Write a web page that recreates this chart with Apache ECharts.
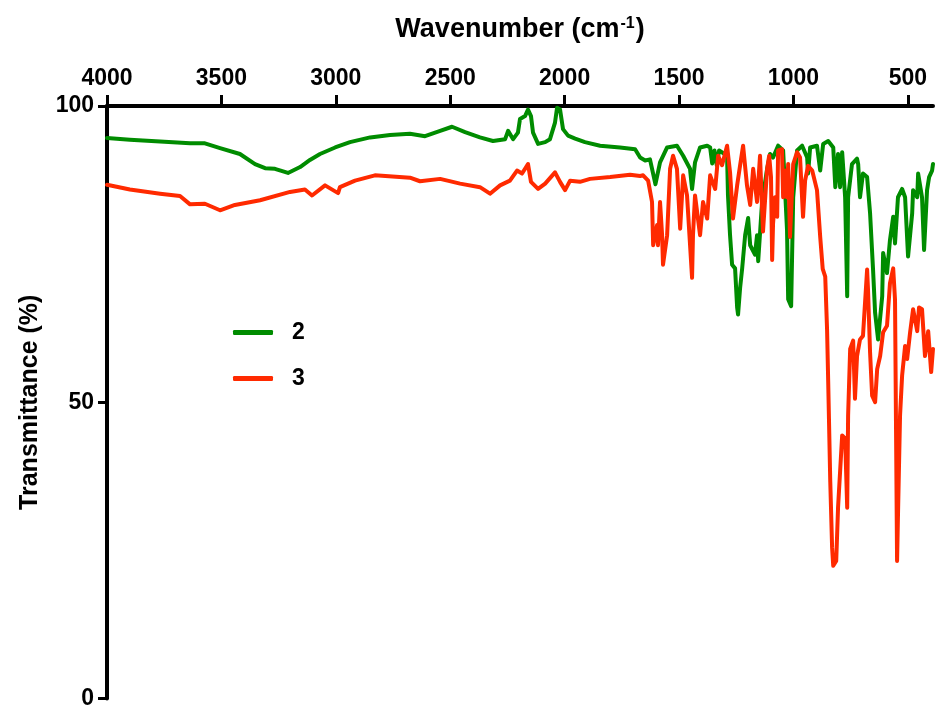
<!DOCTYPE html>
<html>
<head>
<meta charset="utf-8">
<script src="https://cdn.jsdelivr.net/npm/echarts@6/dist/echarts.min.js"></script>
<style>
  html, body { margin: 0; padding: 0; background: #fff; }
  #chart { width: 935px; height: 710px; }
</style>
</head>
<body>
<div id="chart"></div>
<script>
// FTIR spectra of compounds 2 and 3 (wavenumber in cm-1, transmittance in %)
const wavenumber2 = [
  4000, 3900, 3768, 3637, 3572, 3506, 3419, 3353, 3309, 3266, 3209, 3156, 3113, 3069, 3003,
  2938, 2850, 2763, 2676, 2610, 2544, 2492, 2435, 2370, 2313, 2260, 2247, 2225, 2204, 2195,
  2173, 2160, 2147, 2138, 2116, 2085, 2064, 2042, 2033, 2020, 2007, 1985, 1954, 1911, 1845,
  1758, 1692, 1670, 1648, 1627, 1603, 1583, 1552, 1509, 1482, 1452, 1443, 1430, 1408, 1377,
  1364, 1355, 1345, 1335, 1325, 1290, 1286, 1277, 1268, 1255, 1246, 1242, 1233, 1224, 1211,
  1198, 1189, 1168, 1159, 1154, 1137, 1115, 1102, 1089, 1067, 1045, 1028, 1023, 1010, 1001,
  984, 962, 940, 936, 927, 897, 883, 870, 848, 826, 817, 805, 796, 787, 774,
  765, 761, 744, 722, 717, 709, 696, 678, 665, 652, 643, 630, 612, 608, 591,
  578, 564, 556, 543, 525, 512, 499, 481, 477, 459, 455, 438, 429, 416, 407,
  394, 390
];
const transmittance2 = [
  94.6, 94.3, 94.0, 93.7, 93.7, 92.9, 91.9, 90.2, 89.5, 89.4, 88.7, 89.7, 90.9, 91.9, 93.0,
  93.9, 94.7, 95.1, 95.3, 94.9, 95.8, 96.5, 95.6, 94.7, 94.1, 94.4, 95.8, 94.4, 95.5, 97.8,
  98.3, 99.4, 98.3, 95.5, 93.6, 93.9, 94.4, 97.2, 99.7, 99.4, 96.1, 95.0, 94.5, 93.9, 93.3,
  93.0, 92.7, 91.3, 90.8, 91.0, 86.8, 90.5, 93.0, 93.3, 91.6, 89.4, 86.0, 90.5, 93.0, 93.3,
  93.0, 90.3, 92.5, 90.0, 92.5, 91.6, 84.9, 78.2, 73.2, 72.6, 66.0, 64.8, 69.3, 72.6, 78.2,
  81.1, 76.5, 74.9, 78.2, 73.8, 83.8, 89.4, 91.9, 91.3, 93.3, 92.5, 79.1, 67.4, 66.2, 84.6,
  92.5, 93.3, 91.3, 88.6, 93.0, 93.3, 89.1, 93.6, 94.1, 93.0, 86.3, 91.9, 86.3, 92.2, 84.6,
  67.9, 84.6, 90.2, 91.1, 90.2, 84.6, 88.6, 88.0, 81.9, 72.4, 65.1, 60.6, 67.9, 75.2, 71.8,
  77.4, 81.3, 76.8, 84.6, 86.0, 84.6, 74.6, 81.9, 85.8, 84.6, 88.6, 84.6, 75.7, 85.8, 88.0,
  89.1, 90.2
];

const wavenumber3 = [
  4000, 3900, 3768, 3681, 3637, 3572, 3506, 3441, 3331, 3200, 3135, 3104, 3047, 2990, 2982,
  2916, 2829, 2676, 2632, 2544, 2457, 2370, 2326, 2282, 2239, 2208, 2186, 2160, 2147, 2116,
  2085, 2042, 2020, 1998, 1976, 1933, 1889, 1801, 1714, 1670, 1657, 1635, 1618, 1613, 1596,
  1592, 1583, 1574, 1570, 1552, 1539, 1526, 1509, 1495, 1482, 1465, 1443, 1439, 1430, 1408,
  1395, 1377, 1364, 1342, 1329, 1312, 1290, 1277, 1264, 1246, 1233, 1220, 1203, 1189, 1176,
  1159, 1146, 1133, 1115, 1106, 1098, 1093, 1089, 1080, 1071, 1067, 1050, 1045, 1036, 1028,
  1023, 1015, 1001, 984, 971, 958, 949, 936, 918, 897, 883, 872, 861, 853, 848,
  839, 831, 826, 813, 805, 787, 774, 765, 761, 752, 739, 731, 722, 709, 696,
  678, 674, 665, 656, 643, 634, 621, 608, 591, 578, 564, 556, 547, 543, 534,
  525, 512, 503, 490, 477, 459, 451, 438, 425, 411, 398, 390
];
const transmittance3 = [
  86.7, 85.9, 85.2, 84.8, 83.4, 83.5, 82.4, 83.3, 84.1, 85.5, 85.9, 84.9, 86.6, 85.3, 86.3,
  87.4, 88.3, 87.9, 87.3, 87.7, 86.9, 86.3, 85.2, 86.6, 87.4, 89.1, 88.6, 90.2, 87.2, 86.0,
  86.9, 88.8, 87.2, 85.8, 87.4, 87.2, 87.7, 88.0, 88.4, 88.2, 88.3, 87.4, 83.8, 76.5, 79.9,
  76.5, 83.8, 78.2, 73.2, 78.2, 89.4, 91.6, 89.4, 79.3, 88.3, 84.9, 71.0, 78.2, 84.9, 78.2,
  83.8, 81.0, 88.3, 86.0, 91.6, 90.0, 93.3, 88.8, 81.0, 86.6, 90.0, 93.3, 86.6, 83.3, 89.4,
  83.8, 91.6, 78.8, 89.4, 91.6, 88.0, 74.0, 80.2, 84.6, 81.3, 92.5, 92.7, 84.6, 89.1, 84.6,
  90.2, 77.9, 90.2, 92.2, 91.3, 81.3, 87.4, 89.9, 89.1, 85.8, 77.9, 72.5, 71.2, 62.3, 53.4,
  36.6, 25.5, 22.4, 23.2, 32.2, 44.4, 43.9, 32.2, 47.8, 59.0, 60.4, 50.6, 57.8, 60.6, 61.2,
  72.4, 69.0, 58.4, 51.1, 50.0, 55.6, 57.8, 61.8, 62.9, 70.1, 72.6, 67.3, 23.2, 31.0, 47.8,
  54.5, 59.5, 57.3, 61.8, 65.7, 62.0, 66.0, 65.7, 57.8, 62.0, 55.1, 59.0
];

const xTicks = [500, 1000, 1500, 2000, 2500, 3000, 3500, 4000];
const seriesNames = ['2', '3'];
const seriesColors = ['#008c00', '#ff2a00'];

const FONT = '"Liberation Sans", Arial, Helvetica, sans-serif';
const pairs = (xs, ys) => xs.map((x, i) => [x, ys[i]]);

const chart = echarts.init(document.getElementById('chart'), null, { renderer: 'canvas' });

const lineSeries = (name, data, color) => ({
  name,
  type: 'line',
  data,
  showSymbol: false,
  symbol: 'none',
  smooth: false,
  lineStyle: { color, width: 4, join: 'round', cap: 'round' },
  itemStyle: { color },
  emphasis: { disabled: true }
});

chart.setOption({
  animation: false,
  backgroundColor: '#ffffff',
  textStyle: { fontFamily: FONT },
  grid: { left: 107, right: 2, top: 106, bottom: 7, containLabel: false },
  legend: {
    orient: 'vertical',
    left: 228,
    top: 316,
    itemWidth: 40,
    itemHeight: 5,
    itemGap: 23,
    icon: 'roundRect',
    textStyle: {
      fontFamily: FONT, fontSize: 23, fontWeight: 'bold', color: '#000',
      lineHeight: 23, padding: [0, 0, 0, 14]
    },
    data: seriesNames.map((n, i) => ({ name: n, itemStyle: { color: seriesColors[i] } }))
  },
  xAxis: {
    type: 'value',
    position: 'top',
    inverse: true,
    min: 390,
    max: 4000,
    name: '{a|Wavenumber (cm}{s|-1}{a|)}',
    nameLocation: 'middle',
    nameGap: 62,
    nameTextStyle: {
      rich: {
        a: { fontFamily: FONT, fontSize: 27, fontWeight: 'bold', color: '#000' },
        s: { fontFamily: FONT, fontSize: 16, fontWeight: 'bold', color: '#000', verticalAlign: 'top', padding: [0, 1, 12, 1] }
      }
    },
    axisLine: { show: true, onZero: false, lineStyle: { color: '#000', width: 4 } },
    axisTick: { show: true, inside: false, length: 11, lineStyle: { color: '#000', width: 3 }, customValues: xTicks },
    axisLabel: {
      show: true, customValues: xTicks, margin: 16,
      formatter: (v) => String(v),
      fontFamily: FONT, fontSize: 23, fontWeight: 'bold', color: '#000'
    },
    splitLine: { show: false }
  },
  yAxis: {
    type: 'value',
    min: 0,
    max: 100,
    interval: 50,
    name: 'Transmittance (%)',
    nameLocation: 'middle',
    nameGap: 64,
    nameRotate: 90,
    nameTextStyle: { fontFamily: FONT, fontSize: 25, fontWeight: 'bold', color: '#000' },
    axisLine: { show: true, onZero: false, lineStyle: { color: '#000', width: 4 } },
    axisTick: { show: true, inside: false, length: 9, lineStyle: { color: '#000', width: 3 } },
    axisLabel: {
      show: true, margin: 13, formatter: (v) => String(v),
      fontFamily: FONT, fontSize: 23, fontWeight: 'bold', color: '#000'
    },
    splitLine: { show: false }
  },
  series: [
    lineSeries(seriesNames[0], pairs(wavenumber2, transmittance2), seriesColors[0]),
    lineSeries(seriesNames[1], pairs(wavenumber3, transmittance3), seriesColors[1])
  ]
});
</script>
</body>
</html>
